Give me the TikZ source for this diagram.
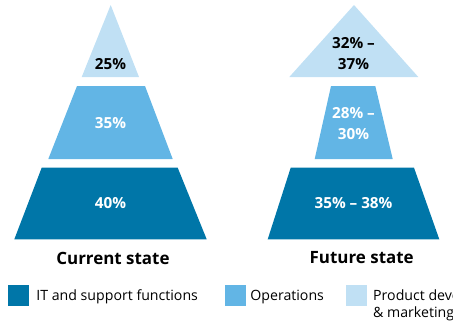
\documentclass[tikz,border=0pt]{standalone}
\usepackage{fontspec}
\setmainfont{Open Sans}
\usetikzlibrary{positioning}
\definecolor{itblue}{RGB}{0,118,168}
\definecolor{opsblue}{RGB}{98,181,229}
\definecolor{prodblue}{RGB}{192,224,244}

\begin{document}
\begin{tikzpicture}[x=1bp, y=-1bp,
    pct/.style={font=\bfseries\fontsize{15.3}{21}\selectfont, align=center, inner sep=0pt},
    title/.style={font=\bfseries\fontsize{17}{20}\selectfont, inner sep=0pt},
    key/.style={minimum size=21bp, inner sep=0pt},
    keytext/.style={font=\fontsize{14.2}{17}\selectfont, align=left, inner sep=0pt, anchor=west}]
    \useasboundingbox (0,0) rectangle (453,325);

    % current state
    \fill[prodblue] (110.7,5) -- (139,77) -- (81.7,77) -- cycle;
    \fill[opsblue] (77,86) -- (145,86) -- (172.7,159) -- (48.3,159) -- cycle;
    \fill[itblue] (41.7,167.7) -- (177.7,167.7) -- (206.7,239.3) -- (14.3,239.3) -- cycle;
    \node[pct] (curprod) at (110.5,64) {25\%};
    \node[pct, white] (curops) at (110.5,123) {35\%};
    \node[pct, white] (curit) at (110.5,203) {40\%};
    \node[title] (current) at (113,258) {Current state};

    % future state
    \fill[prodblue] (354,5) -- (418.3,77) -- (289.3,77) -- cycle;
    \fill[opsblue] (331,86) -- (375.3,86) -- (392.7,159) -- (314.7,159) -- cycle;
    \fill[itblue] (290.7,167.7) -- (414,167.7) -- (439.3,239.3) -- (267.7,239.3) -- cycle;
    \node[pct] (futprod) at (353.5,53.5) {32\% –\\37\%};
    \node[pct, white] (futops) at (353.5,124) {28\% –\\30\%};
    \node[pct, white] (futit) at (353.5,203) {35\% – 38\%};
    \node[title] (future) at (361.7,258) {Future state};

    % legend
    \node[key, fill=itblue] (keyit) at (18.5,295.5) {};
    \node[keytext, right=7bp of keyit, yshift=-1.5bp] (labit) {IT and support functions};
    \node[key, fill=opsblue] (keyops) at (235.5,295.5) {};
    \node[keytext, right=4bp of keyops, yshift=-1.5bp] (labops) {Operations};
    \node[key, fill=prodblue] (keyprod) at (356.3,295.5) {};
    \node[keytext, right=6bp of keyprod, yshift=-10bp] (labprod) {Product development\\\& marketing};
\end{tikzpicture}
\end{document}
